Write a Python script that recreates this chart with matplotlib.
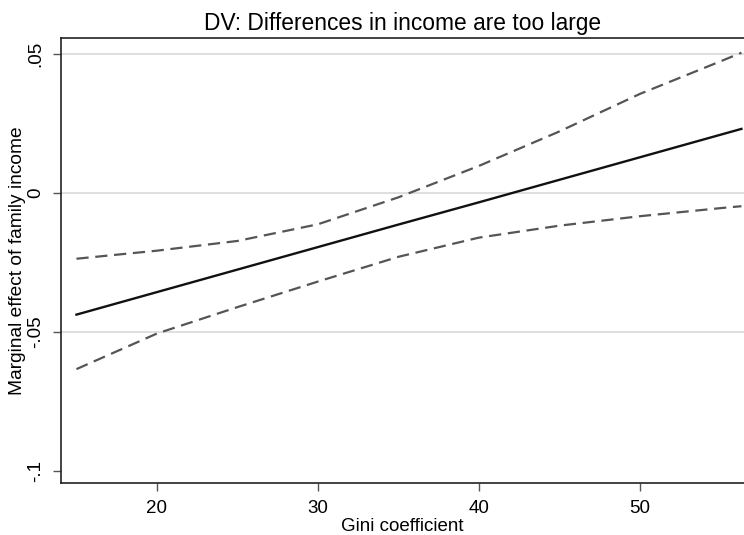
import matplotlib.pyplot as plt
import numpy as np

plt.rcParams['font.family'] = ['Liberation Sans', 'DejaVu Sans']

# Gini coefficient values and marginal effects
gini = [15, 20, 25, 30, 35, 40, 45, 50, 55, 56.3]
effect = [-0.0437, -0.0356, -0.0275, -0.0194, -0.0113, -0.0033, 0.0048, 0.0129, 0.0210, 0.0231]
upper_ci = [-0.0236, -0.0207, -0.0172, -0.0112, -0.0015, 0.0098, 0.0222, 0.0357, 0.0474, 0.0505]
lower_ci = [-0.0633, -0.0505, -0.0410, -0.0318, -0.0229, -0.0160, -0.0117, -0.0083, -0.0054, -0.0047]

y_ticks = [-0.1, -0.05, 0, 0.05]
y_labels = ['-.1', '-.05', '0', '.05']
x_ticks = [20, 30, 40, 50]
grid_vals = [-0.05, 0, 0.05]

fig = plt.figure(figsize=(7.44, 5.35), dpi=100)
ax = fig.add_axes([0.082, 0.097, 0.918, 0.832])

for g in grid_vals:
    ax.axhline(g, color='#d9d9d9', lw=1.2, zorder=0)

ax.plot(gini, upper_ci, color='#555555', lw=1.6, dashes=(5.5, 3))
ax.plot(gini, lower_ci, color='#555555', lw=1.6, dashes=(5.5, 3))
ax.plot(gini, effect, color='#111111', lw=1.7)

ax.set_xlim(14.04, 56.46)
ax.set_ylim(-0.1043, 0.0558)

ax.set_yticks(y_ticks)
ax.set_yticklabels(y_labels, rotation=90, va='center')
ax.set_xticks(x_ticks)
ax.tick_params(axis='both', labelsize=13.5, length=6, width=1, color='#555555', pad=6)

ax.spines['right'].set_visible(False)
for s in ['left', 'bottom', 'top']:
    ax.spines[s].set_color('#222222')
    ax.spines[s].set_linewidth(1.2)

ax.set_xlabel('Gini coefficient', fontsize=13.5, labelpad=1)
ax.set_ylabel('Marginal effect of family income', fontsize=13.8, labelpad=1)
ax.set_title('DV: Differences in income are too large', fontsize=16.4, pad=6)

fig.savefig('out.png', dpi=100)
